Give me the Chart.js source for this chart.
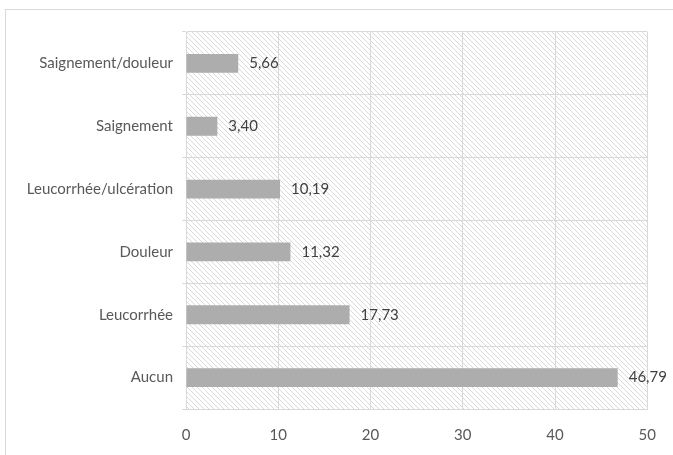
<!DOCTYPE html>
<html>
<head>
<meta charset="utf-8">
<script src="https://cdn.jsdelivr.net/npm/chart.js@4/dist/chart.umd.min.js"></script>
<style>
html,body{margin:0;padding:0;background:#fff;}
#wrap{width:673px;height:455px;position:relative;}
</style>
</head>
<body>
<div id="wrap"><canvas id="chart" width="673" height="455"></canvas></div>
<script>
// data, top to bottom
const categories = ['Saignement/douleur','Saignement','Leucorrhée/ulcération','Douleur','Leucorrhée','Aucun'];
const values = [5.66, 3.40, 10.19, 11.32, 17.73, 46.79];
const xTicks = [0, 10, 20, 30, 40, 50];

const fontName = 'Lato';

// hatch pattern for the plot area
const makeHatch = (ctx) => {
var c = document.createElement('canvas');
c.width = 5; c.height = 5;
var p = c.getContext('2d');
p.fillStyle = '#fff';
p.fillRect(0,0,5,5);
p.strokeStyle = '#dadada';
p.lineWidth = 1;
p.beginPath();
p.moveTo(-1,-1); p.lineTo(6,6);
p.moveTo(-1,4); p.lineTo(1,6);
p.moveTo(4,-1); p.lineTo(6,1);
p.stroke();
return ctx.createPattern(c,'repeat');
};

const backgroundPlugin = {
id: 'background',
beforeDraw(chart) {
const {ctx, chartArea} = chart;
ctx.save();
// outer frame
ctx.strokeStyle = '#d9d9d9';
ctx.lineWidth = 1;
ctx.strokeRect(5.5, 9.5, 800, 600);
// hatched plot area
ctx.fillStyle = makeHatch(ctx);
ctx.fillRect(chartArea.left, chartArea.top, chartArea.right - chartArea.left, chartArea.bottom - chartArea.top);
ctx.restore();
}
};

const valueLabels = {
id: 'valueLabels',
afterDatasetsDraw(chart) {
const {ctx} = chart;
const meta = chart.getDatasetMeta(0);
ctx.save();
ctx.font = '15px ' + fontName;
ctx.fillStyle = '#404040';
ctx.textBaseline = 'middle';
ctx.textAlign = 'left';
meta.data.forEach((bar, i) => {
ctx.fillText(values[i].toFixed(2).replace('.', ','), bar.x + 11, bar.y);
});
ctx.restore();
}
};

new Chart(document.getElementById('chart'), {
type: 'bar',
data: {
labels: categories,
datasets: [{
data: values,
backgroundColor: '#adadad',
borderWidth: 0,
categoryPercentage: 1,
barPercentage: 0.3
}]
},
options: {
indexAxis: 'y',
responsive: false,
animation: false,
layout: {padding: {left: 0, right: 23, top: 32, bottom: 0}},
plugins: {legend: {display: false}, tooltip: {enabled: false}},
scales: {
x: {
min: 0, max: 50,
afterBuildTicks: (scale) => { scale.ticks = xTicks.map(v => ({value: v})); },
afterFit: (scale) => { scale.height = 455 - 409; },
grid: {color: '#d9d9d9', drawTicks: false},
border: {color: '#d9d9d9'},
ticks: {color: '#595959', font: {family: fontName, size: 15}, padding: 17}
},
y: {
afterFit: (scale) => { scale.width = 186; },
grid: {color: '#d9d9d9', tickLength: 4, offset: true},
border: {color: '#d9d9d9'},
ticks: {color: '#595959', font: {family: fontName, size: 15}, padding: 9}
}
}
},
plugins: [backgroundPlugin, valueLabels]
});
</script>
</body>
</html>
